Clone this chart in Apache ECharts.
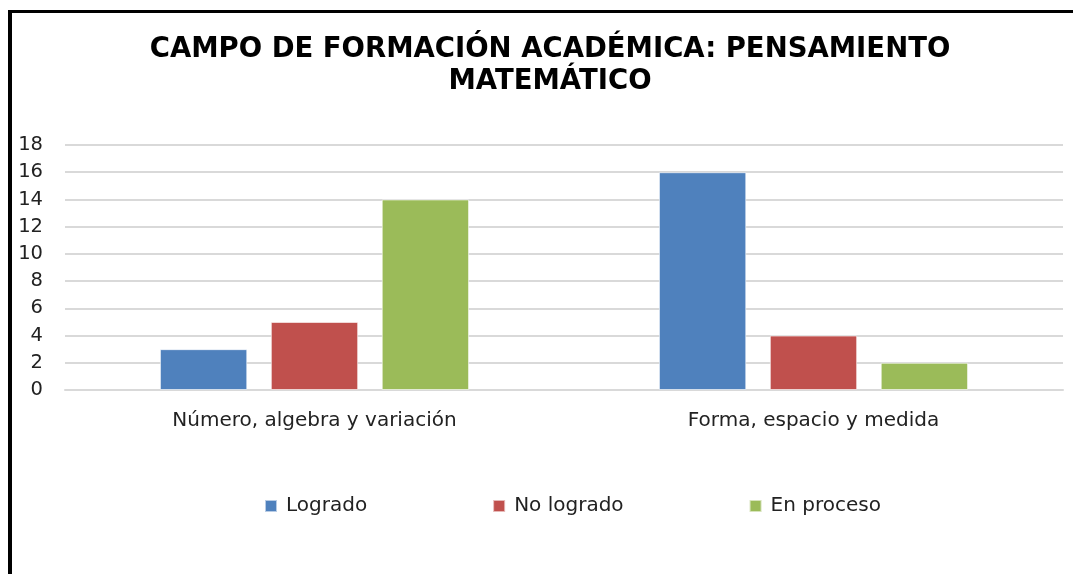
<!DOCTYPE html>
<html>
<head>
<meta charset="utf-8">
<script src="https://cdn.jsdelivr.net/npm/echarts@6/dist/echarts.min.js"></script>
<style>
  html, body { margin: 0; padding: 0; background: #fff; }
  #frame {
    position: absolute; left: 8px; top: 10px; right: 0; bottom: 0;
    border-left: 4px solid #000; border-top: 3px solid #000;
  }
  #chart { position: absolute; left: 0; top: 0; width: 1073px; height: 574px; }
</style>
</head>
<body>
<div id="frame"></div>
<div id="chart"></div>
<script>
const categories = ['Número, algebra y variación', 'Forma, espacio y medida']
const seriesNames = ['Logrado', 'No logrado', 'En proceso']
const logrado = [3, 16]
const noLogrado = [5, 4]
const enProceso = [14, 2]
const colors = ['#4f81bd', '#c0504d', '#9bbb59']

const chart = echarts.init(document.getElementById('chart'))

const values = [logrado, noLogrado, enProceso]
const labelFont = 'DejaVu Sans'

chart.setOption({
  animation: false,
  color: colors,
  title: {
    text: 'CAMPO DE FORMACIÓN ACADÉMICA: PENSAMIENTO\nMATEMÁTICO',
    left: 545,
    textAlign: 'center',
    top: 29,
    textStyle: {
      fontFamily: 'DejaVu Sans',
      fontWeight: 'bold',
      fontSize: 27.5,
      lineHeight: 32,
      color: '#000',
    },
  },
  legend: {
    data: seriesNames,
    left: 259,
    top: 491,
    itemGap: 125,
    itemWidth: 12,
    itemHeight: 12,
    icon: 'rect',
    textStyle: { fontFamily: labelFont, fontSize: 20, color: '#222', padding: [0, 0, 0, 4] },
  },
  grid: {
    left: 65,
    right: 10,
    top: 145,
    bottom: 184,
    containLabel: false,
  },
  xAxis: {
    type: 'category',
    data: categories,
    axisLine: { lineStyle: { color: '#d9d9d9', width: 2 } },
    axisTick: { show: false },
    axisLabel: { fontFamily: labelFont, fontSize: 20, color: '#222', margin: 21 },
  },
  yAxis: {
    type: 'value',
    min: 0,
    max: 18,
    interval: 2,
    axisLine: { show: false },
    axisTick: { show: false },
    splitLine: { lineStyle: { color: '#d9d9d9', width: 2 } },
    axisLabel: { fontFamily: labelFont, fontSize: 19.5, color: '#222', margin: 22 },
  },
  series: seriesNames.map((name, i) => ({
    name,
    type: 'bar',
    data: values[i],
    barWidth: '17.5%',
    barGap: '27%',
    itemStyle: { borderColor: 'rgba(255,255,255,0.6)', borderWidth: 1 },
  })),
})
</script>
</body>
</html>
